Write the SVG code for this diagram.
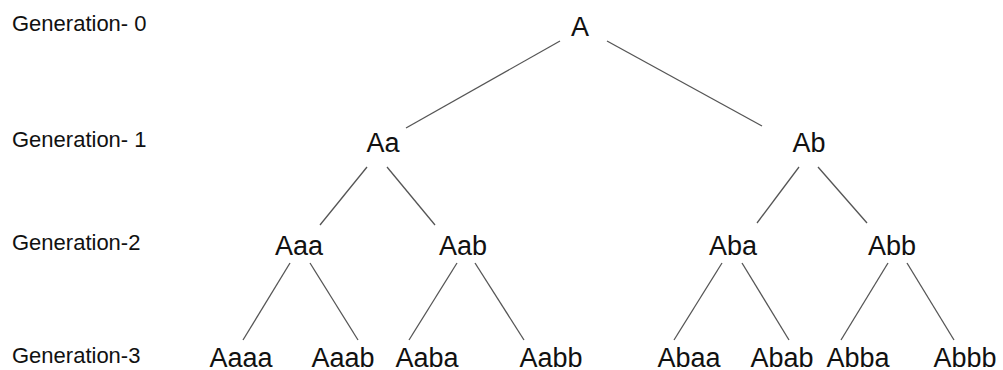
<svg xmlns="http://www.w3.org/2000/svg" width="1003" height="370" viewBox="0 0 1003 370">
  <style>
    .gen { font-family: "Liberation Sans", Arial, sans-serif; font-size: 22px; fill: #111; }
    .node { font-family: "Liberation Sans", Arial, sans-serif; font-size: 27px; fill: #111; text-anchor: middle; }
    .edge { stroke: #555; stroke-width: 1.3; fill: none; }
  </style>
  <rect width="1003" height="370" fill="#fff"/>

  <!-- generation labels -->
  <g id="labels">
    <text class="gen" x="12" y="31">Generation- 0</text>
    <text class="gen" x="12" y="147">Generation- 1</text>
    <text class="gen" x="12" y="250">Generation-2</text>
    <text class="gen" x="12" y="363">Generation-3</text>
  </g>

  <!-- tree edges -->
  <g id="connectors">
    <line class="edge" x1="560" y1="41" x2="406" y2="128"/>
    <line class="edge" x1="607" y1="41" x2="762" y2="126"/>
    <line class="edge" x1="367" y1="167" x2="320" y2="225"/>
    <line class="edge" x1="387" y1="167" x2="435" y2="225"/>
    <line class="edge" x1="799" y1="167" x2="757" y2="223"/>
    <line class="edge" x1="818" y1="167" x2="867" y2="223"/>
    <line class="edge" x1="290" y1="263" x2="243" y2="340"/>
    <line class="edge" x1="310" y1="263" x2="358" y2="340"/>
    <line class="edge" x1="457" y1="263" x2="409" y2="340"/>
    <line class="edge" x1="475" y1="263" x2="524" y2="340"/>
    <line class="edge" x1="722" y1="263" x2="674" y2="340"/>
    <line class="edge" x1="742" y1="263" x2="789" y2="340"/>
    <line class="edge" x1="888" y1="263" x2="841" y2="340"/>
    <line class="edge" x1="907" y1="263" x2="954" y2="340"/>
  </g>

  <!-- generation 0 -->
  <g id="node-A"><text class="node" x="580" y="36">A</text></g>
  <!-- generation 1 -->
  <g id="node-Aa"><text class="node" x="383" y="152">Aa</text></g>
  <g id="node-Ab"><text class="node" x="809" y="152">Ab</text></g>
  <!-- generation 2 -->
  <g id="node-Aaa"><text class="node" x="299" y="255">Aaa</text></g>
  <g id="node-Aab"><text class="node" x="463" y="255">Aab</text></g>
  <g id="node-Aba"><text class="node" x="733" y="255">Aba</text></g>
  <g id="node-Abb"><text class="node" x="892" y="255">Abb</text></g>
  <!-- generation 3 -->
  <g id="node-Aaaa"><text class="node" x="241" y="367">Aaaa</text></g>
  <g id="node-Aaab"><text class="node" x="343" y="367">Aaab</text></g>
  <g id="node-Aaba"><text class="node" x="427" y="367">Aaba</text></g>
  <g id="node-Aabb"><text class="node" x="551" y="367">Aabb</text></g>
  <g id="node-Abaa"><text class="node" x="689" y="367">Abaa</text></g>
  <g id="node-Abab"><text class="node" x="782" y="367">Abab</text></g>
  <g id="node-Abba"><text class="node" x="858" y="367">Abba</text></g>
  <g id="node-Abbb"><text class="node" x="965" y="367">Abbb</text></g>
</svg>
